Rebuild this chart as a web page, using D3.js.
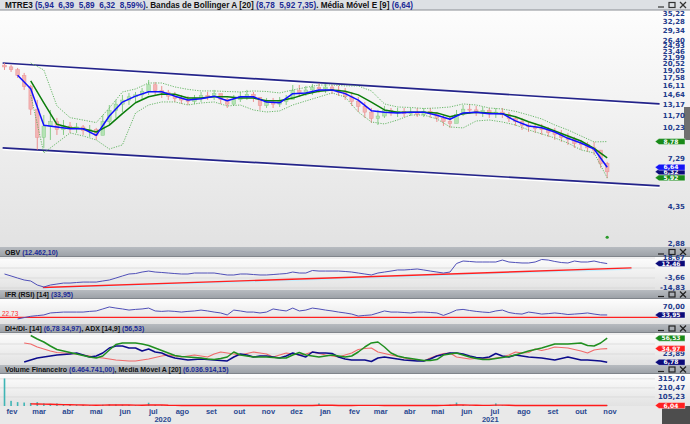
<!DOCTYPE html>
<html>
<head>
<meta charset="utf-8">
<script src="https://cdn.jsdelivr.net/npm/d3@7"></script>
<style>
  html, body { margin: 0; padding: 0; background: #fff; }
  svg { display: block; }
  .hdr { font-family: "Liberation Sans", Arial, sans-serif; font-weight: bold; font-size: 7px; white-space: pre; }
  .hdr.main { font-size: 8.2px; }
  .ylab { font-family: "DejaVu Sans", sans-serif; font-weight: bold; font-size: 7px; fill: #1f3c8c; }
  .xlab { font-family: "Liberation Sans", Arial, sans-serif; font-weight: bold; font-size: 7.5px; fill: #2a4890; }
  .tagtxt { font-family: "DejaVu Sans", sans-serif; font-weight: bold; font-size: 6px; fill: #fff; }
</style>
</head>
<body>
<svg id="chart" width="690" height="424"></svg>
<script>
/* ---------- data (weekly / biweekly samples) ---------- */
const weekStart = new Date(2020, 0, 24);
const weekDates = d3.range(93).map(i => d3.timeDay.offset(weekStart, 7 * i));
const biDates = d3.range(47).map(i => d3.timeDay.offset(weekStart, 14 * i));
const monthNames = ["jan","fev","mar","abr","mai","jun","jul","ago","set","out","nov","dez"];

const firstOpen = 20.2;
const candleHigh = [20.66,20.22,19.57,18.54,16.26,13.82,11.73,12.39,11.36,11.11,
  10.87,10.76,10.52,10.52,10.19,11.73,13.08,13.82,14.59,14.91,
  15.07,15.74,17.17,16.80,16.09,15.41,15.07,14.59,14.43,14.59,
  15.07,15.07,15.41,14.75,14.12,14.59,15.07,15.41,15.07,14.27,
  14.12,14.12,14.27,14.59,16.26,16.26,16.09,16.44,16.62,16.44,
  16.26,16.09,15.74,15.07,14.27,13.52,12.66,12.39,12.94,12.66,
  12.66,12.66,12.66,12.66,12.66,12.66,12.12,11.73,11.48,12.39,
  13.08,13.23,12.94,12.80,12.66,12.66,12.66,12.12,11.61,11.36,
  10.87,10.76,10.64,10.30,10.19,9.97,9.65,9.24,8.94,8.75,
  8.75,8.02,7.04];
const candleLow = [19.15,18.74,17.55,15.41,11.73,8.02,8.20,8.94,9.44,9.44,
  9.65,9.65,9.44,9.24,8.94,9.44,10.52,11.36,12.12,13.08,
  13.52,13.82,14.59,14.43,14.12,13.82,13.52,13.23,13.08,13.23,
  13.52,13.82,13.82,13.23,12.66,13.08,13.52,13.82,13.52,12.39,
  12.66,12.66,12.80,13.08,14.12,14.27,14.43,14.59,14.91,14.91,
  14.75,14.43,13.82,12.94,12.12,11.36,10.76,10.52,11.36,11.61,
  11.48,11.48,11.61,11.48,11.48,11.36,10.87,10.41,10.19,10.87,
  11.61,11.86,11.61,11.48,11.36,11.36,11.36,10.87,10.41,9.97,
  9.75,9.65,9.44,9.24,8.94,8.75,8.47,8.20,8.02,7.85,
  7.59,6.59,5.89];
const candleClose = [19.8,19.2,18.0,16.0,12.5,9.2,10.4,10.9,10.0,10.4,
  10.1,10.3,9.9,10.0,9.4,10.9,12.3,13.2,13.8,14.3,
  14.6,15.2,16.3,15.3,15.0,14.4,14.0,13.8,13.6,14.1,
  14.5,14.3,14.8,13.9,13.2,13.9,14.4,14.7,14.2,13.0,
  13.5,13.2,13.6,13.9,15.3,15.0,15.4,15.8,15.6,15.9,
  15.4,15.0,14.3,13.6,12.9,12.1,11.3,11.6,12.3,12.0,
  12.2,11.9,12.1,11.8,12.2,11.9,11.3,10.9,10.7,11.8,
  12.5,12.4,12.1,12.3,11.9,12.1,11.8,11.3,10.9,10.5,
  10.3,10.1,10.0,9.7,9.5,9.2,9.0,8.6,8.5,8.2,
  8.0,6.9,6.32];

const emaLine = [null,18.1,15.6,10.5,10.3,10.1,10.1,9.4,11.6,13.5,
  14.4,15.1,15.1,14.4,13.8,14.0,14.4,13.7,14.3,14.3,
  13.5,13.4,14.8,14.9,15.4,15.4,14.8,13.8,12.3,12.1,
  12.0,12.1,12.1,11.7,11.2,12.0,12.1,11.9,11.9,11.0,
  10.4,10.2,9.75,9.1,8.65,8.1,6.64];
const bbMid = [null,null,17.0,13.4,10.6,10.2,10.1,9.75,10.5,11.9,
  13.4,14.3,14.75,14.7,14.1,14.1,14.3,14.3,14.1,14.1,
  13.7,13.7,14.1,14.75,15.2,15.4,15.2,14.6,13.5,12.4,
  12.1,12.1,12.1,12.0,11.5,11.9,12.1,12.0,11.9,11.5,
  10.9,10.4,9.86,9.34,8.84,8.15,7.35];
const bbUpper = [null,null,20.66,19.15,12.94,11.4,11.1,10.8,12.66,15.07,
  15.57,16.62,16.62,15.92,15.5,15.24,15.24,15.15,15.07,15.24,
  15.15,14.91,15.41,15.83,16.26,16.26,16.09,16.09,15.24,13.23,
  12.8,12.73,12.59,12.66,12.8,13.23,13.08,12.66,12.52,12.2,
  11.73,11.24,10.52,9.97,9.34,8.75,8.78];
const bbLower = [null,null,14.59,7.76,8.65,9.65,9.34,8.94,8.1,8.47,
  11.99,13.08,13.52,13.52,13.08,13.37,13.52,12.94,13.08,12.39,
  12.12,12.26,13.08,13.67,14.27,14.91,14.27,12.12,10.87,10.64,
  11.11,11.73,11.73,11.24,10.30,10.19,10.99,11.11,10.87,10.52,
  9.97,9.55,9.14,8.65,8.02,7.76,5.92];

const channelDates = [new Date(2020, 0, 22), new Date(2021, 11, 24)];
const channelUpper = [20.66, 13.23];
const channelLower = [8.20, 5.42];
const markerDate = new Date(2021, 9, 29);
const markerValue = 3.1;

const priceTicks = [2.88,4.35,5.82,7.29,8.76,10.23,11.70,13.17,14.64,16.11,17.58,19.05,20.52,21.99,23.46,24.93,26.40,29.34,32.28,35.22];

const obvLine = [0.8,-1.4,-3.7,-5.9,-7.0,-11.5,-13.7,-11.5,-10.4,-9.3,
  -9.3,-8.7,-8.2,-8.2,-8.2,-7.0,-5.9,-3.7,-1.4,0.8,
  1.3,3.0,4.1,3.0,2.5,1.9,1.3,0.8,0.8,1.9,
  1.9,1.9,1.9,0.8,-0.3,-0.3,0.8,0.8,0.2,-0.3,
  -0.3,0.2,0.8,1.3,3.0,1.9,1.9,4.7,4.1,4.1,
  4.1,4.1,3.6,3.0,1.9,0.8,-0.3,1.9,3.0,4.1,
  5.3,5.3,5.8,6.4,5.3,4.1,3.0,1.9,3.0,12.5,
  15.3,14.8,14.2,14.2,14.2,14.2,16.4,14.2,13.6,13.1,
  13.1,14.2,17.0,16.4,14.8,13.6,13.1,15.3,14.2,14.2,
  15.3,13.6,12.46];
const obvTrendDates = [new Date(2020, 2, 5), new Date(2021, 10, 24)];
const obvTrend = [-14.2, 7.6];
const obvTicks = [-14.83, -3.66, 7.50, 18.67];

const ifrLine = [null,null,16,22,28,31,34,43,45,47,
  47,47,47,50,52,61,70,65,61,56,
  59,61,65,52,50,52,50,47,50,52,
  56,52,47,43,34,56,52,47,47,43,
  47,61,56,52,65,52,56,65,61,56,
  52,47,43,38,29,32,34,43,52,47,
  47,45,43,47,47,45,43,32,43,56,
  59,54,50,47,45,52,56,45,40,38,
  47,43,38,40,43,40,36,38,40,43,
  38,34,33.95];
const ifrLevel = 22.73;
const ifrTicks = [30, 70];

const diPlus = [null,null,null,7.4,11.5,15.6,17.7,19.8,21.8,22.9,
  23.9,25.9,21.8,17.7,19.8,25.9,36.3,40.4,40.4,36.3,
  36.3,30.1,34.2,28.0,25.9,19.8,15.6,13.6,11.5,12.5,
  13.6,12.5,11.5,10.5,9.5,17.7,23.9,21.8,17.7,19.8,
  19.8,17.7,15.6,19.8,25.9,21.8,17.7,28.0,25.9,25.9,
  24.9,17.7,13.6,11.5,11.5,11.5,8.4,15.6,17.7,15.6,
  13.6,11.5,10.5,9.5,9.5,13.6,19.8,22.9,25.9,25.9,
  23.9,19.8,16.7,15.6,17.7,24.9,19.8,17.7,21.8,19.8,
  17.7,16.7,15.6,13.6,11.5,14.6,17.7,14.6,11.5,11.5,
  10.5,9.5,6.78];
const diMinus = [null,null,null,46.6,44.5,38.3,34.2,30.1,27,25.9,
  24.9,23.9,21.8,19.8,16.7,15.6,13.6,11.5,10.5,9.5,
  9.5,11.5,13.6,16.7,19.8,21.8,19.8,17.7,19.8,21.8,
  19.8,17.7,23.9,28.0,25.9,23.9,21.8,24.9,28.0,25.9,
  23.9,17.7,21.8,25.9,23.9,21.8,23.9,28.0,24.9,21.8,
  19.8,17.7,21.8,25.9,33.2,35.2,36.3,28.0,24.9,21.8,
  18.7,15.6,12.5,11.5,9.5,15.6,20.8,24.9,25.9,17.7,
  15.6,13.6,14.6,14.6,13.6,15.6,17.7,21.8,28.0,25.9,
  27,34.2,31.1,34.2,38.3,37.3,36.3,33.2,30.1,25.9,
  32.1,34.2,34.97];
const adxLine = [null,null,null,null,62,54.8,48.6,40.4,33.2,30.1,
  27,23.9,20.8,17.7,15.6,19.8,32.1,43.5,46.6,46.6,
  46.6,44.5,41.4,36.3,31.1,25.9,20.8,18.7,17.7,16.7,
  15.6,13.6,12.5,14.6,17.7,28.0,21.8,19.8,17.7,17.7,
  17.7,16.7,15.6,15.6,21.8,27,21.8,19.8,17.7,19.8,
  21.8,19.8,17.7,19.8,28.0,38.3,46.6,48.6,38.3,25.9,
  19.8,16.7,14.6,12.5,10.5,10.5,12.5,21.8,23.9,25.9,
  21.8,17.7,14.6,12.5,12.5,14.6,16.7,18.7,21.8,25.9,
  30.1,33.2,36.3,40.4,44.5,44.5,44.5,45.5,46.6,41.4,
  40.4,46.6,56.53];
const diTicks = [23.89, 44.50, 65.11];

const volume = [320,60,45,40,35,45,30,25,30,20,
  18,15,12,10,12,15,20,18,15,12,
  10,12,38,12,8,8,6,6,5,6,
  5,5,6,5,8,6,5,5,5,6,
  5,5,5,5,8,6,5,8,30,8,
  6,5,5,6,8,8,10,8,6,5,
  5,5,4,5,5,5,6,8,15,40,
  12,8,6,6,8,30,8,6,5,5,
  5,6,6,5,5,6,5,5,5,6,
  5,8,6.46];
const volMA = [null,null,null,null,25,24,22,20,18,16,
  15,13,11,10,9,10,11,12,12,11,
  10,9,12,12,11,8,7,6,6,6,
  6,6,6,6,6,6,6,6,6,6,
  6,6,6,6,6,6,6,6,9,9,
  8,6,6,6,7,7,7,7,6,6,
  6,6,5,5,5,5,6,7,9,12,
  12,10,8,7,7,10,10,8,6,6,
  6,6,6,6,6,6,6,6,6,6,
  6,6,6.04];
const volTicks = [105.23, 210.47, 315.70];

/* ---------- layout ---------- */
const W = 690, H = 424;
const plotR = 655;
const svg = d3.select("#chart");

const ptBR = d3.formatLocale({ decimal: ",", thousands: ".", grouping: [3], currency: ["R$", ""], minus: "-" });
const fmt2 = ptBR.format(",.2f");

const x = d3.scaleTime()
  .domain([new Date(2020, 1, 1), new Date(2021, 10, 1)])
  .range([12, 610]);

const yPrice = d3.scaleLog().domain([2.88, 35.22]).range([244, 14]);
const yObv = d3.scaleLinear().domain([-14.83, 18.67]).range([288, 258]);
const yIfr = d3.scaleLinear().domain([0, 100]).range([322.5, 300.3]);
const yDi = d3.scaleLinear().domain([23.89, 65.11]).range([354, 334]);
const yVol = d3.scaleLinear().domain([0, 360]).range([406, 375]);

const defs = svg.append("defs");
const grad = defs.append("linearGradient").attr("id", "panelBg")
  .attr("x1", 0).attr("y1", 0).attr("x2", 0).attr("y2", 1);
grad.append("stop").attr("offset", "0%").attr("stop-color", "#fdfdfd");
grad.append("stop").attr("offset", "100%").attr("stop-color", "#e2e2e2");
const hgrad = defs.append("linearGradient").attr("id", "hdrBg")
  .attr("x1", 0).attr("y1", 0).attr("x2", 0).attr("y2", 1);
hgrad.append("stop").attr("offset", "0%").attr("stop-color", "#b7bbc0");
hgrad.append("stop").attr("offset", "100%").attr("stop-color", "#9a9fa5");

/* ---------- panel chrome ---------- */
function panelBg(y0, y1) {
  svg.append("rect").attr("x", 0).attr("y", y0).attr("width", W).attr("height", y1 - y0)
    .attr("fill", "url(#panelBg)");
}

function icons(yc, color) {
  const ig = svg.append("g").attr("stroke", color).attr("fill", "none").attr("stroke-width", 1.2);
  ig.append("line").attr("x1", 658).attr("x2", 664).attr("y1", yc + 2).attr("y2", yc + 2);
  ig.append("rect").attr("x", 669).attr("y", yc - 2.5).attr("width", 6).attr("height", 5);
  ig.append("line").attr("x1", 680).attr("x2", 686).attr("y1", yc - 3).attr("y2", yc + 3);
  ig.append("line").attr("x1", 680).attr("x2", 686).attr("y1", yc + 3).attr("y2", yc - 3);
}

function header(y0, y1, parts, fill) {
  svg.append("rect").attr("x", 0).attr("y", y0).attr("width", W).attr("height", y1 - y0)
    .attr("fill", fill);
  svg.append("line").attr("x1", 0).attr("x2", W).attr("y1", y1 - 0.5).attr("y2", y1 - 0.5)
    .attr("stroke", "#80858b").attr("stroke-width", 1);
  const t = svg.append("text").attr("class", "hdr").attr("x", 5).attr("y", (y0 + y1) / 2 + 2.5);
  parts.forEach(p => t.append("tspan").attr("fill", p[1] ? "#1c2b96" : "#111").text(p[0]));
  icons((y0 + y1) / 2, "#222");
}

// tick labels hidden behind a value tag are left out, as in the original
function yLabels(scale, ticks, fmt, tagValues) {
  const shown = ticks.filter(t => !tagValues.some(v => Math.abs(scale(v) - scale(t)) < 5));
  svg.append("g").selectAll("text").data(shown).join("text")
    .attr("class", "ylab").attr("x", 685).attr("y", d => scale(d))
    .attr("dy", "0.35em").attr("text-anchor", "end").text(d => fmt(d));
}

function grid(scale, ticks) {
  svg.append("g").selectAll("line").data(ticks).join("line")
    .attr("x1", 0).attr("x2", plotR).attr("y1", d => scale(d)).attr("y2", d => scale(d))
    .attr("stroke", "#d2d2d2").attr("stroke-width", 0.6);
}

function tag(yv, label, color) {
  const g = svg.append("g");
  g.append("path")
    .attr("d", `M655,${yv} L659,${yv - 3} L685,${yv - 3} L685,${yv + 3} L659,${yv + 3} Z`)
    .attr("fill", color).attr("stroke", "#fff").attr("stroke-width", 0.4);
  g.append("text").attr("class", "tagtxt").attr("x", 671).attr("y", yv).attr("dy", "0.36em")
    .attr("text-anchor", "middle").text(label);
}

function series(dates, values) {
  return dates.map((d, i) => ({ date: d, v: values[i] }));
}

function drawLine(data, scale, color, width, dash) {
  const line = d3.line().defined(d => d.v != null).x(d => x(d.date)).y(d => scale(d.v));
  const p = svg.append("path").datum(data).attr("d", line)
    .attr("fill", "none").attr("stroke", color).attr("stroke-width", width)
    .attr("stroke-linejoin", "round");
  if (dash) p.attr("stroke-dasharray", dash);
  return p;
}

/* backgrounds */
panelBg(10, 247);
panelBg(257, 290);
panelBg(299, 324);
panelBg(333, 365);
panelBg(374, 406);
svg.append("rect").attr("x", 0).attr("y", 406).attr("width", W).attr("height", 18).attr("fill", "#e9e9e9");
svg.append("rect").attr("x", 662).attr("y", 406).attr("width", 28).attr("height", 18).attr("fill", "#4d4d4d");

/* headers */
svg.append("rect").attr("x", 0).attr("y", 0).attr("width", W).attr("height", 10).attr("fill", "#dde0e4");
svg.append("line").attr("x1", 0).attr("x2", W).attr("y1", 10).attr("y2", 10).attr("stroke", "#8a8e94");
{
  const t = svg.append("text").attr("class", "hdr main").attr("x", 5).attr("y", 7.8);
  [["MTRE3 ", 0], ["(5,94  6,39  5,89  6,32  8,59%)", 1], [". Bandas de Bollinger A [20] ", 0], ["(8,78  5,92 7,35)", 1],
   [". Média Móvel E [9] ", 0], ["(6,64)", 1]]
    .forEach(p => t.append("tspan").attr("fill", p[1] ? "#1c2b96" : "#111").text(p[0]));
  icons(5, "#333");
}
header(247, 257, [["OBV ", 0], ["(12.462,10)", 1]], "url(#hdrBg)");
header(290, 299, [["IFR (RSI) [14] ", 0], ["(33,95)", 1]], "url(#hdrBg)");
header(324, 333, [["DI+/DI- [14] ", 0], ["(6,78 34,97)", 1], [", ADX [14,9] ", 0], ["(56,53)", 1]], "url(#hdrBg)");
header(365, 374, [["Volume Financeiro ", 0], ["(6.464.741,00)", 1], [", Média Móvel A [20] ", 0], ["(6.036.914,15)", 1]], "url(#hdrBg)");

/* side scroll handle */
svg.append("rect").attr("x", 684).attr("y", 107).attr("width", 6).attr("height", 33).attr("fill", "#6f6f6f");

/* ---------- price panel ---------- */
const priceTags = [bbUpper[46], emaLine[46], candleClose[92], bbLower[46]];
yLabels(yPrice, priceTicks, fmt2, priceTags);

// channel lines
[channelUpper, channelLower].forEach(vals => {
  const d = series(channelDates, vals);
  const line = d3.line().x(p => x(p.date)).y(p => yPrice(p.v));
  svg.append("path").datum(d).attr("d", line).attr("transform", "translate(0,1.6)")
    .attr("fill", "none").attr("stroke", "#ffffff").attr("stroke-width", 1.6);
  svg.append("path").datum(d).attr("d", line)
    .attr("fill", "none").attr("stroke", "#23238a").attr("stroke-width", 1.7);
});

// candles
const candles = weekDates.map((d, i) => ({
  date: d, high: candleHigh[i], low: candleLow[i], close: candleClose[i],
  open: i === 0 ? firstOpen : candleClose[i - 1]
}));
const cg = svg.append("g").attr("opacity", 0.8);
cg.selectAll("line").data(candles).join("line")
  .attr("x1", d => x(d.date)).attr("x2", d => x(d.date))
  .attr("y1", d => yPrice(d.high)).attr("y2", d => yPrice(d.low))
  .attr("stroke", d => d.close >= d.open ? "#6cc46c" : "#ea7a7a").attr("stroke-width", 1);
cg.selectAll("rect").data(candles).join("rect")
  .attr("x", d => x(d.date) - 1.8).attr("width", 3.6)
  .attr("y", d => yPrice(Math.max(d.open, d.close)))
  .attr("height", d => Math.max(1, Math.abs(yPrice(d.open) - yPrice(d.close))))
  .attr("fill", d => d.close >= d.open ? "#a6e0a6" : "#f3a5a5")
  .attr("stroke", d => d.close >= d.open ? "#6cc46c" : "#ea7a7a").attr("stroke-width", 0.5);

// bollinger + ema
drawLine(series(biDates, bbUpper), yPrice, "#58b058", 0.9, "1.2,1.3");
drawLine(series(biDates, bbLower), yPrice, "#58b058", 0.9, "1.2,1.3");
drawLine(series(biDates, bbMid), yPrice, "#0a7d0a", 1.5);
drawLine(series(biDates, emaLine), yPrice, "#1010ff", 1.5);

svg.append("circle").attr("cx", x(markerDate)).attr("cy", yPrice(markerValue)).attr("r", 1.6).attr("fill", "#2a9a2a");

tag(yPrice(bbUpper[46]), fmt2(bbUpper[46]), "#198a19");
tag(yPrice(bbLower[46]), fmt2(bbLower[46]), "#198a19");
tag(yPrice(candleClose[92]), fmt2(candleClose[92]), "#0b0b7a");
tag(yPrice(emaLine[46]), fmt2(emaLine[46]), "#1515f5");

/* ---------- OBV ---------- */
grid(yObv, obvTicks);
yLabels(yObv, obvTicks, fmt2, [obvLine[92]]);
{
  const d = series(obvTrendDates, obvTrend);
  const line = d3.line().x(p => x(p.date)).y(p => yObv(p.v));
  svg.append("path").datum(d).attr("d", line).attr("transform", "translate(0,1.2)")
    .attr("fill", "none").attr("stroke", "#bfefff").attr("stroke-width", 1.2);
  svg.append("path").datum(d).attr("d", line)
    .attr("fill", "none").attr("stroke", "#ff2020").attr("stroke-width", 1.4);
}
drawLine(series(weekDates, obvLine), yObv, "#4f4fb8", 1);
tag(yObv(obvLine[92]), fmt2(obvLine[92]), "#0b0b7a");

/* ---------- IFR ---------- */
yLabels(yIfr, ifrTicks, fmt2, [ifrLine[92]]);
svg.append("line").attr("x1", 0).attr("x2", 660)
  .attr("y1", yIfr(ifrLevel)).attr("y2", yIfr(ifrLevel))
  .attr("stroke", "#ff2020").attr("stroke-width", 1.2);
svg.append("text").attr("x", 2).attr("y", yIfr(ifrLevel) - 1.5)
  .attr("font-family", "Liberation Sans, Arial, sans-serif").attr("font-size", 6.5)
  .attr("fill", "#ff3030").text(fmt2(ifrLevel));
drawLine(series(weekDates, ifrLine), yIfr, "#4f4fb8", 1);
tag(yIfr(ifrLine[92]), fmt2(ifrLine[92]), "#0b0b7a");

/* ---------- DI / ADX ---------- */
grid(yDi, diTicks);
yLabels(yDi, diTicks, fmt2, [adxLine[92], diMinus[92], diPlus[92]]);
drawLine(series(weekDates, diMinus), yDi, "#f06a6a", 1.1);
drawLine(series(weekDates, diPlus), yDi, "#0c0c8c", 1.5);
drawLine(series(weekDates, adxLine), yDi, "#1f8f1f", 1.5);
tag(yDi(adxLine[92]), fmt2(adxLine[92]), "#198a19");
tag(yDi(diMinus[92]), fmt2(diMinus[92]), "#ff2020");
tag(yDi(diPlus[92]), fmt2(diPlus[92]), "#0b0b7a");

/* ---------- volume ---------- */
grid(yVol, volTicks);
yLabels(yVol, volTicks, fmt2, [volMA[92]]);
svg.append("g").selectAll("rect").data(series(weekDates, volume)).join("rect")
  .attr("x", d => x(d.date) - 0.8).attr("width", 1.6)
  .attr("y", d => yVol(d.v)).attr("height", d => yVol(0) - yVol(d.v))
  .attr("fill", "#3fb5b5");
drawLine(series(weekDates, volMA), yVol, "#ff1a1a", 1.4);
tag(yVol(volMA[92]), fmt2(volMA[92]), "#ff2020");

/* ---------- time axis ---------- */
const monthTicks = x.ticks(d3.timeMonth.every(1));
svg.append("g").selectAll("text").data(monthTicks).join("text")
  .attr("class", "xlab").attr("x", d => x(d)).attr("y", 413.5).attr("text-anchor", "middle")
  .text(d => monthNames[d.getMonth()]);
const years = [2020, 2021];
svg.append("g").selectAll("text").data(years).join("text")
  .attr("class", "xlab").attr("y", 421.5).attr("text-anchor", "middle")
  .attr("x", yr => {
    const a = Math.max(0, x(new Date(yr, 0, 1)));
    const b = Math.min(plotR, x(new Date(yr + 1, 0, 1)));
    return (a + b) / 2;
  })
  .text(yr => yr);
</script>
</body>
</html>
